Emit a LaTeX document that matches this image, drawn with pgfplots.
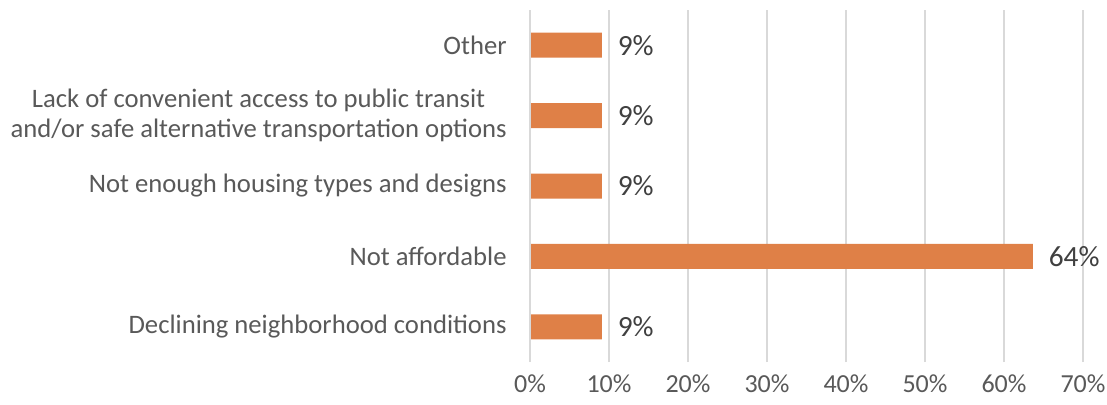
\documentclass[border=0pt]{standalone}
\usepackage{pgfplots}
\pgfplotsset{compat=1.18}
\usepackage{fontspec}
\setmainfont{Carlito}
\definecolor{barc}{RGB}{223,128,71}
\definecolor{gridc}{RGB}{217,217,217}
\definecolor{txt}{RGB}{89,89,89}
\definecolor{dl}{RGB}{64,64,64}
\begin{document}
\begin{tikzpicture}
\begin{axis}[
  at={(0,0)}, anchor=south west,
  scale only axis,
  width=414.75pt, height=264pt,
  xbar, bar width=18.75pt,
  xmin=0, xmax=70,
  ymin=-0.5, ymax=4.5,
  xtick={0,10,...,70},
  xticklabel={\pgfmathprintnumber{\tick}\%},
  /pgf/number format/assume math mode=true,
  ytick={0,1,2,3,4},
  yticklabels={Declining neighborhood conditions,Not affordable,Not enough housing types and designs,{Lack of convenient access to public transit\\and/or safe alternative transportation options},Other},
  yticklabel style={align=center, font=\fontsize{20}{22.5}\selectfont, text=txt, xshift=-14pt},
  xticklabel style={font=\fontsize{19.5}{22}\selectfont, text=txt, yshift=-6pt},
  xmajorgrids, grid style={gridc, line width=1pt},
  axis line style={draw=none},
  major tick length=0pt,
  axis x line*=bottom, axis y line*=left,
  point meta=x,
  nodes near coords={\pgfmathprintnumber[fixed,precision=0]{\pgfplotspointmeta}\%},
  nodes near coords style={font=\fontsize{22}{24}\selectfont, text=dl, anchor=west, xshift=8.5pt},
  clip=false,
]
\addplot[fill=barc, draw=none] coordinates {(9.09,0) (63.64,1) (9.09,2) (9.09,3) (9.09,4)};
\draw[gridc, line width=1pt] (axis cs:0,-0.5) -- (axis cs:0,4.5);
\end{axis}
\pgfresetboundingbox
\path (-397.5pt,-31.5pt) rectangle (432.75pt,271.5pt);
\end{tikzpicture}
\end{document}
